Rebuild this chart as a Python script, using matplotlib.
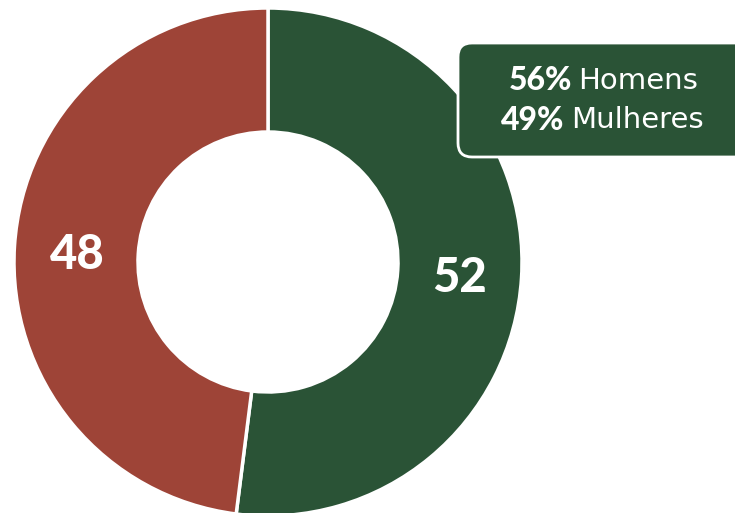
import matplotlib
matplotlib.use('Agg')
import matplotlib.pyplot as plt
from matplotlib.patches import FancyBboxPatch

plt.rcParams['font.family'] = ['Lato', 'DejaVu Sans']

# data
labels = ['Homens', 'Mulheres']
values = [52, 48]
colors = ['#2a5336', '#9e4437']
box_pct = ['56%', '49%']
box_txt = ['Homens', 'Mulheres']

W, H = 735, 513
fig = plt.figure(figsize=(W / 100, H / 100), dpi=100)
ax = fig.add_axes([0, 0, 1, 1])

cx, cy, R = 268, H - 262, 254
ax.pie(values, colors=colors, startangle=90, counterclock=False,
       center=(cx, cy), radius=R,
       wedgeprops=dict(width=124, edgecolor='white', linewidth=2.5))
ax.set_xlim(0, W)
ax.set_ylim(0, H)
ax.set_aspect('equal')
ax.axis('off')

# slice labels
ax.text(460, H - 278, str(values[0]), color='white', fontsize=34,
        fontweight='black', ha='center', va='center')
ax.text(77, H - 255, str(values[1]), color='white', fontsize=34,
        fontweight='black', ha='center', va='center')

# callout box
box = FancyBboxPatch((458, H - 157), 320, 114,
                     boxstyle='round,pad=0,rounding_size=14',
                     facecolor='#2a5336', edgecolor='white', linewidth=2,
                     clip_on=False, zorder=5)
ax.add_patch(box)
ys = [H - 81, H - 120]
splits = [(572, 578), (564, 571)]
for y, p, t, (xr, xl) in zip(ys, box_pct, box_txt, splits):
    ax.text(xr, y, p, color='white', fontsize=23, fontweight='black',
            ha='right', va='center', zorder=6)
    ax.text(xl, y, t, color='white', fontsize=21, family='DejaVu Sans',
            ha='left', va='center', zorder=6)

fig.savefig('out.png', dpi=100)
